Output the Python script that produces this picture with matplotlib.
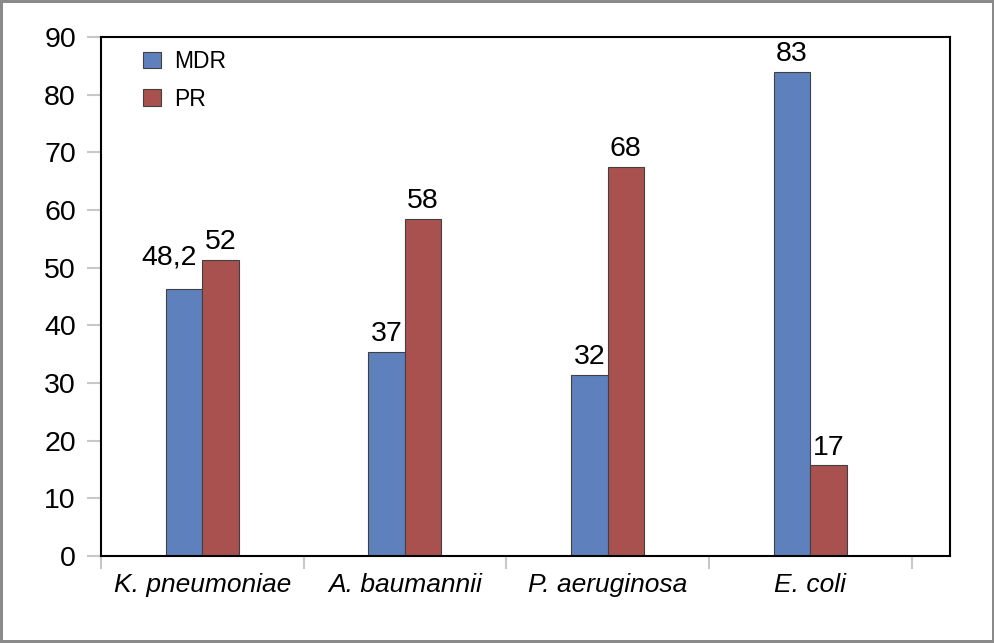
import matplotlib.pyplot as plt
import numpy as np

plt.rcParams['font.family'] = ['Liberation Sans', 'DejaVu Sans']

# data
species    = ['K. pneumoniae', 'A. baumannii', 'P. aeruginosa', 'E. coli']
mdr_height = [46.3, 35.4, 31.4, 83.9]
pr_height  = [51.3, 58.4, 67.5, 15.7]
mdr_text   = ['48,2', '37', '32', '83']
pr_text    = ['52', '58', '68', '17']

blue = '#5e81be'
red  = '#a9514e'

fig = plt.figure(figsize=(9.95, 6.43), dpi=100, linewidth=4, edgecolor='#8a8a8a')
ax = fig.add_axes([0.1015, 0.1353, 0.8533, 0.8072])

x = np.arange(len(species))
w = 0.18
b1 = ax.bar(x - w/2, mdr_height, w, color=blue, edgecolor='#404040', linewidth=0.8, label='MDR')
b2 = ax.bar(x + w/2, pr_height, w, color=red, edgecolor='#404040', linewidth=0.8, label='PR')

for bars, texts in ((b1, mdr_text), (b2, pr_text)):
    for r, t in zip(bars, texts):
        if t == '48,2':
            # wide label, pushed left and up so it clears the neighbour bar
            ax.annotate(t, (r.get_x() + r.get_width(), r.get_height()),
                        xytext=(-4, 13), textcoords='offset points',
                        ha='right', va='bottom', fontsize=20.5)
        else:
            ax.annotate(t, (r.get_x() + r.get_width()/2, r.get_height()),
                        xytext=(0, 3.5), textcoords='offset points',
                        ha='center', va='bottom', fontsize=20.5)

ax.set_xlim(-0.5, 3.69)
ax.set_ylim(0, 90)
ax.set_yticks(np.arange(0, 91, 10))
ax.set_xticks(x)
ax.set_xticklabels(species, fontsize=19, style='italic')
ax.set_xticks(np.arange(-0.5, 3.6, 1), minor=True)

ax.tick_params(axis='y', labelsize=20.5, length=10, width=1.5, color='#c8c8c8', pad=8)
ax.tick_params(axis='x', which='major', length=0, pad=12)
ax.tick_params(axis='x', which='minor', length=9.5, width=1.5, color='#c8c8c8')

for s in ax.spines.values():
    s.set_linewidth(1.5)
    s.set_color('black')

ax.legend(loc='upper left', bbox_to_anchor=(0.05, 0.975), frameon=False, fontsize=16.5,
          handlelength=0.75, handleheight=0.75, handletextpad=0.6, labelspacing=0.65,
          borderpad=0, borderaxespad=0)

fig.savefig('out.png', dpi=100)
